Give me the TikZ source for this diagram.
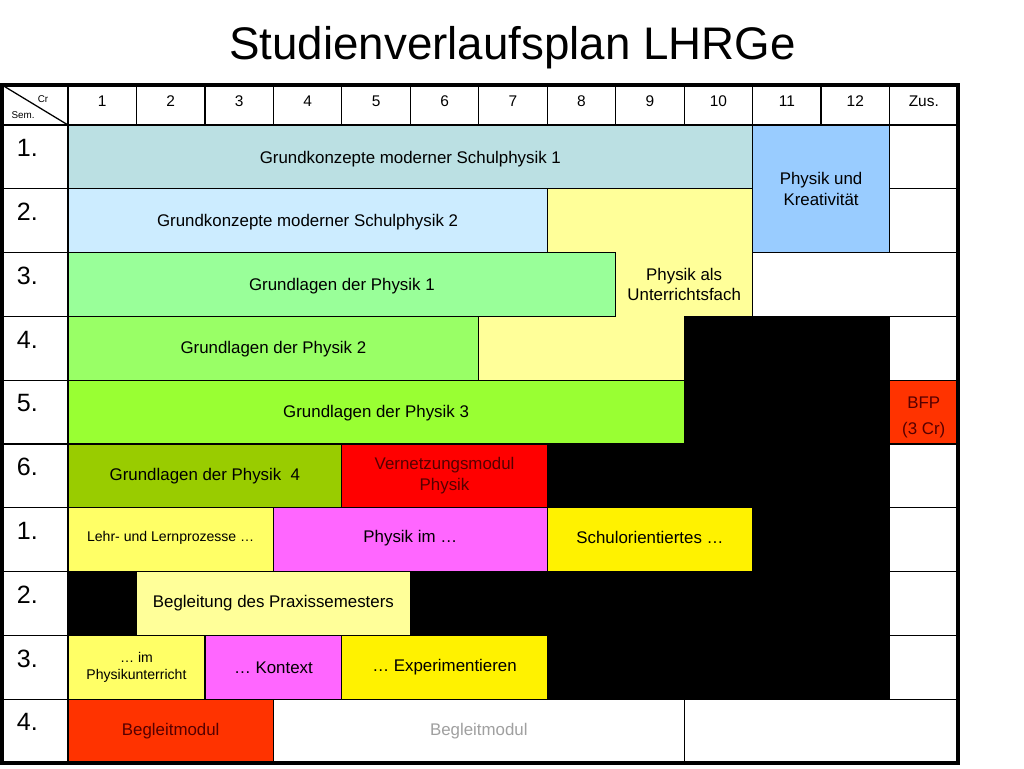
\documentclass[tikz,border=0pt]{standalone}
\usepackage{fontspec}
\setmainfont{Liberation Sans}
\usetikzlibrary{backgrounds}

\definecolor{gkone}{HTML}{BBE0E3}
\definecolor{gktwo}{HTML}{CCECFF}
\definecolor{paleyellow}{HTML}{FFFF99}
\definecolor{kreablue}{HTML}{99CCFF}
\definecolor{glone}{HTML}{99FF99}
\definecolor{gltwo}{HTML}{99FF66}
\definecolor{glthree}{HTML}{99FF33}
\definecolor{glfour}{HTML}{99CC00}
\definecolor{lightyellow}{HTML}{FFFF66}
\definecolor{pinkmod}{HTML}{FF66FF}
\definecolor{begleitred}{HTML}{FF3300}
\definecolor{modred}{HTML}{550000}
\definecolor{graytext}{HTML}{A0A0A0}

\tikzset{
	cell/.style={draw=black, line width=0.9pt},
	blackcell/.style={fill=black, draw=black, line width=0.9pt},
	modtext/.style={font=\fontsize{12}{14.7}\selectfont, align=center},
	smalltext/.style={font=\fontsize{10}{12.7}\selectfont, align=center},
	headtext/.style={font=\fontsize{11}{13}\selectfont, anchor=base},
	semtext/.style={font=\fontsize{17.8}{20}\selectfont, anchor=base west},
	cornertext/.style={font=\fontsize{7}{8}\selectfont, anchor=base},
}

\begin{document}
\begin{tikzpicture}[x=1.7115cm, y=-1.595cm]
			\useasboundingbox[fill=white] (-0.9933, -1.9592) rectangle (13.9638, 10.0784);
			\coordinate (tabletop) at (-0.964, -0.627);
			\coordinate (tablebottom) at (13, 10);
			
			\node[font=\fontsize{32.5}{38}\selectfont, anchor=base] (title) at (6.493, -1.03) {Studienverlaufsplan LHRGe};
			
			% header
			\draw[cell] (tabletop) rectangle (0, 0);
			\draw[cell] (tabletop) -- (0, 0);
			\node[cornertext] (cr) at (-0.365, -0.36) {Cr};
			\node[cornertext] (sem) at (-0.657, -0.099) {Sem.};
			\foreach \n in {1, ..., 12}
			\draw[cell] (\n - 1, -0.627) rectangle (\n, 0) node[headtext] (head\n) at (\n - 0.5, -0.285) {\n};
			\draw[cell] (12, -0.627) rectangle (13, 0) node[headtext] (headzus) at (12.5, -0.285) {Zus.};
			
			% semester column and Zus. column
			\foreach \s [count=\j] in {1, 2, 3, 4, 5, 6, 1, 2, 3, 4} {
				\draw[cell] (-0.964, \j - 1) rectangle (0, \j);
				\node[semtext] (sem\j) at (-0.818, \j - 0.503) {\s.};
				\draw[cell] (12, \j - 1) rectangle (13, \j);
			}
			
			% black cells
			\draw[blackcell] (9, 3) rectangle (12, 5);
			\draw[blackcell] (7, 5) rectangle (12, 9);
			\draw[blackcell] (0, 7) rectangle (1, 8);
			\draw[blackcell] (5, 7) rectangle (7, 8);
			
			% modules
			\draw[cell, fill=gkone] (0, 0) rectangle (10, 1);
			\node[modtext] (gk1) at (5, 0.53) {Grundkonzepte moderner Schulphysik 1};
			\draw[cell, fill=kreablue] (10, 0) rectangle (12, 2);
			\node[modtext] (kreativ) at (11, 1) {Physik und\\Kreativität};
			\draw[cell, fill=gktwo] (0, 1) rectangle (7, 2);
			\node[modtext] (gk2) at (3.5, 1.53) {Grundkonzepte moderner Schulphysik 2};
			\draw[cell, fill=paleyellow] (7, 1) -- (10, 1) -- (10, 3) -- (9, 3) -- (9, 4) -- (6, 4) -- (6, 3) -- (8, 3) -- (8, 2) -- (7, 2) -- cycle;
			\node[modtext] (unterricht) at (9, 2.5) {Physik als\\Unterrichtsfach};
			\draw[cell, fill=white] (10, 2) rectangle (13, 3);
			\draw[cell, fill=glone] (0, 2) rectangle (8, 3);
			\node[modtext] (gl1) at (4, 2.52) {Grundlagen der Physik 1};
			\draw[cell, fill=gltwo] (0, 3) rectangle (6, 4);
			\node[modtext] (gl2) at (3, 3.52) {Grundlagen der Physik 2};
			\draw[cell, fill=glthree] (0, 4) rectangle (9, 5);
			\node[modtext] (gl3) at (4.5, 4.52) {Grundlagen der Physik 3};
			\draw[cell, fill=begleitred] (12, 4) rectangle (13, 5);
			\node[modtext, text=modred, font=\fontsize{12}{18.2}\selectfont] (bfp) at (12.5, 4.58) {BFP\\(3 Cr)};
			\draw[cell, fill=glfour] (0, 5) rectangle (4, 6);
			\node[modtext] (gl4) at (2, 5.5) {Grundlagen der Physik~ 4};
			\draw[cell, fill=red] (4, 5) rectangle (7, 6);
			\node[modtext, text=modred] (vernetz) at (5.5, 5.5) {Vernetzungsmodul\\Physik};
			\draw[cell, fill=lightyellow] (0, 6) rectangle (3, 7);
			\node[smalltext] (lehr) at (1.5, 6.47) {Lehr- und Lernprozesse …};
			\draw[cell, fill=pinkmod] (3, 6) rectangle (7, 7);
			\node[modtext] (physikim) at (5, 6.47) {Physik im …};
			\draw[cell, fill=yellow] (7, 6) rectangle (10, 7);
			\node[modtext] (schulor) at (8.5, 6.47) {Schulorientiertes …};
			\draw[cell, fill=paleyellow] (1, 7) rectangle (5, 8);
			\node[modtext] (praxis) at (3, 7.5) {Begleitung des Praxissemesters};
			\draw[cell, fill=lightyellow] (0, 8) rectangle (2, 9);
			\node[smalltext] (imunterricht) at (1, 8.5) {… im\\Physikunterricht};
			\draw[cell, fill=pinkmod] (2, 8) rectangle (4, 9);
			\node[modtext] (kontext) at (3, 8.5) {… Kontext};
			\draw[cell, fill=yellow] (4, 8) rectangle (7, 9);
			\node[modtext] (experiment) at (5.5, 8.5) {… Experimentieren};
			\draw[cell, fill=begleitred] (0, 9) rectangle (3, 10);
			\node[modtext, text=modred] (begleit) at (1.5, 9.5) {Begleitmodul};
			\draw[cell, fill=white] (3, 9) rectangle (9, 10);
			\node[modtext, text=graytext] (begleitb) at (6, 9.5) {Begleitmodul};
			\draw[cell, fill=white] (9, 9) rectangle (13, 10);
			
			\draw[line width=2.5pt] (tabletop) rectangle (tablebottom);
\end{tikzpicture}
\end{document}
